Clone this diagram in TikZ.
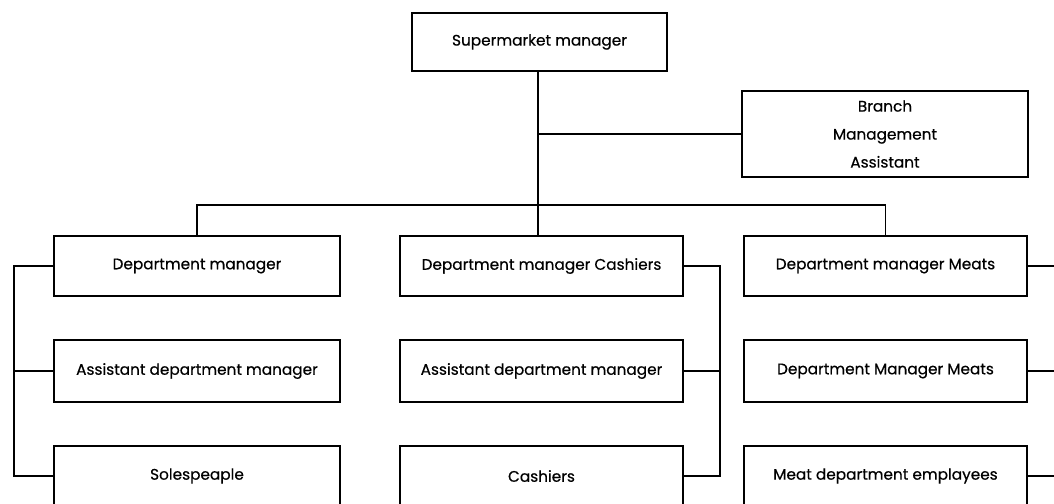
\documentclass[tikz,border=0pt]{standalone}
\usepackage{fontspec}
\setmainfont{Poppins}[FakeBold=0.5]
\begin{document}
\begin{tikzpicture}[x=1pt,y=-1pt,
  box/.style={draw, line width=1.3pt, inner sep=0pt, align=center,
    font=\fontsize{15.3}{28}\selectfont},
  link/.style={line width=1.3pt}]
\clip (0,0) rectangle (1054,503);
\fill[white] (0,0) rectangle (1054,503);

% top of the hierarchy
\node[box, minimum width=255pt, minimum height=58pt] (top) at (539.5,42) {Supermarket manager};
\node[box, minimum width=286pt, minimum height=86pt] (br) at (885,134) {Branch\\Management\\Assistant};

% first row: department managers
\node[box, minimum width=286pt, minimum height=60pt] (l1) at (197,266) {Department manager};
\node[box, minimum width=283pt, minimum height=60pt] (m1) at (541.5,266) {Department manager Cashiers};
\node[box, minimum width=283pt, minimum height=60pt] (r1) at (885.5,266) {Department manager Meats};

% second row: assistants
\node[box, minimum width=286pt, minimum height=62pt] (l2) at (197,371) {Assistant department manager};
\node[box, minimum width=283pt, minimum height=62pt] (m2) at (541.5,371) {Assistant department manager};
\node[box, minimum width=283pt, minimum height=62pt] (r2) at (885.5,371) {Department Manager Meats};

% third row: staff
\node[box, minimum width=286pt, minimum height=60pt] (l3) at (197,476) {Solespeaple};
\node[box, minimum width=283pt, minimum height=60pt] (m3) at (541.5,476) {Cashiers};
\node[box, minimum width=283pt, minimum height=60pt] (r3) at (885.5,476) {Meat department emplayees};

% trunk, staff link and bus
\coordinate (trunk) at (538,0);
\draw[link] (top.south -| trunk) -- (m1.north -| trunk);
\draw[link] (br.west -| trunk) -- (br.west);
\coordinate (bus) at (538,205);
\draw[link] (l1.north) |- (bus) -| (r1.north);

% left bracket
\coordinate (lb) at (14,0);
\draw[link] (l1.west) -- (l1.west -| lb) -- (l3.west -| lb) -- (l3.west);
\draw[link] (l2.west) -- (l2.west -| lb);

% middle bracket
\coordinate (mb) at (720,0);
\draw[link] (m1.east) -- (m1.east -| mb) -- (m3.east -| mb) -- (m3.east);
\draw[link] (m2.east) -- (m2.east -| mb);

% right links running off the edge
\coordinate (rb) at (1054,0);
\draw[link] (r1.east) -- (r1.east -| rb);
\draw[link] (r2.east) -- (r2.east -| rb);
\draw[link] (r3.east) -- (r3.east -| rb);
\end{tikzpicture}
\end{document}
